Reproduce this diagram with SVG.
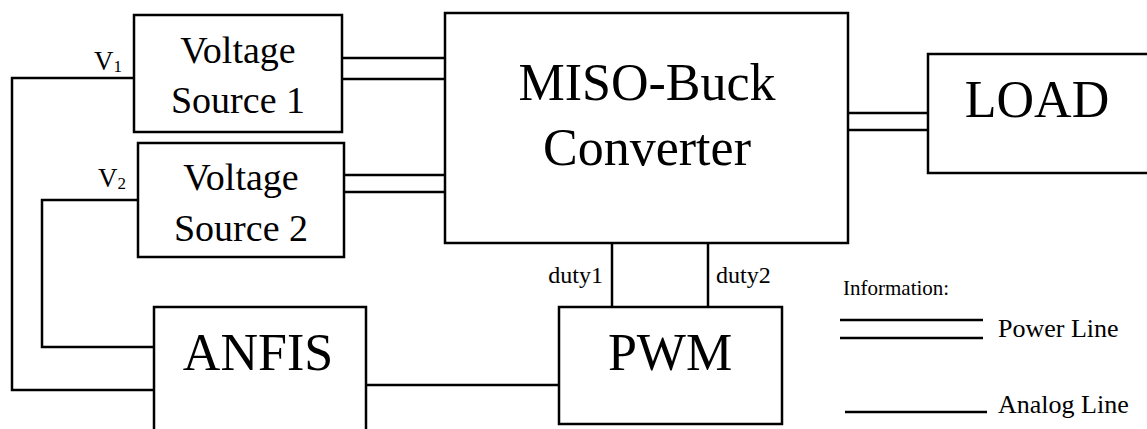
<svg xmlns="http://www.w3.org/2000/svg" width="1147" height="429" viewBox="0 0 1147 429">
<style>
.box{fill:#fff;stroke:#000;stroke-width:2.5}
.ln{fill:none;stroke:#000;stroke-width:2.5}
text{font-family:"Liberation Serif","Times New Roman",serif;fill:#000}
.big{font-size:52px;text-anchor:middle}
.mid{font-size:38px;text-anchor:middle}
.sm{font-size:24px}
.lg{font-size:26px}
</style>
<rect width="1147" height="429" fill="#fff"/>
<g id="connectors">
<path class="ln" d="M140,78 H12 V390 H154"/>
<path class="ln" d="M138,200 H42 V347 H154"/>
<path class="ln" d="M366,385 H559"/>
<path class="ln" d="M612,243 V307"/>
<path class="ln" d="M708,243 V307"/>
<path class="ln" d="M342,58 H445 M342,79 H445"/>
<path class="ln" d="M344,175 H445 M344,192 H445"/>
<path class="ln" d="M848,113 H928 M848,130 H928"/>
</g>
<g id="vs1">
<rect class="box" x="134" y="15" width="208" height="117"/>
<text class="mid" x="238" y="63">Voltage</text>
<text class="mid" x="238" y="113">Source 1</text>
</g>
<g id="vs2">
<rect class="box" x="138" y="143" width="206" height="114"/>
<text class="mid" x="241" y="190">Voltage</text>
<text class="mid" x="241" y="241">Source 2</text>
</g>
<g id="v1label"><text x="94" y="70" font-size="27">V<tspan font-size="17" dy="2">1</tspan></text></g>
<g id="v2label"><text x="98" y="187" font-size="27">V<tspan font-size="17" dy="2">2</tspan></text></g>
<g id="miso">
<rect class="box" x="445" y="13" width="403" height="230"/>
<text class="big" x="647" y="100">MISO-Buck</text>
<text class="big" x="647" y="165">Converter</text>
</g>
<g id="load">
<rect class="box" x="928" y="54" width="230" height="119"/>
<text class="big" x="1037" y="117">LOAD</text>
</g>
<g id="anfis">
<rect class="box" x="154" y="307" width="212" height="140"/>
<text class="big" x="258" y="370">ANFIS</text>
</g>
<g id="pwm">
<rect class="box" x="559" y="307" width="223" height="117"/>
<text class="big" x="670" y="370">PWM</text>
</g>
<g id="duty-labels">
<text class="sm" x="603" y="283" text-anchor="end">duty1</text>
<text class="sm" x="716" y="283">duty2</text>
</g>
<g id="legend">
<text x="843" y="295" font-size="21">Information:</text>
<path class="ln" d="M840,320 H983 M840,338 H983"/>
<text class="lg" x="998" y="337">Power Line</text>
<path class="ln" d="M845,412 H987"/>
<text class="lg" x="998" y="413">Analog Line</text>
</g>
</svg>
